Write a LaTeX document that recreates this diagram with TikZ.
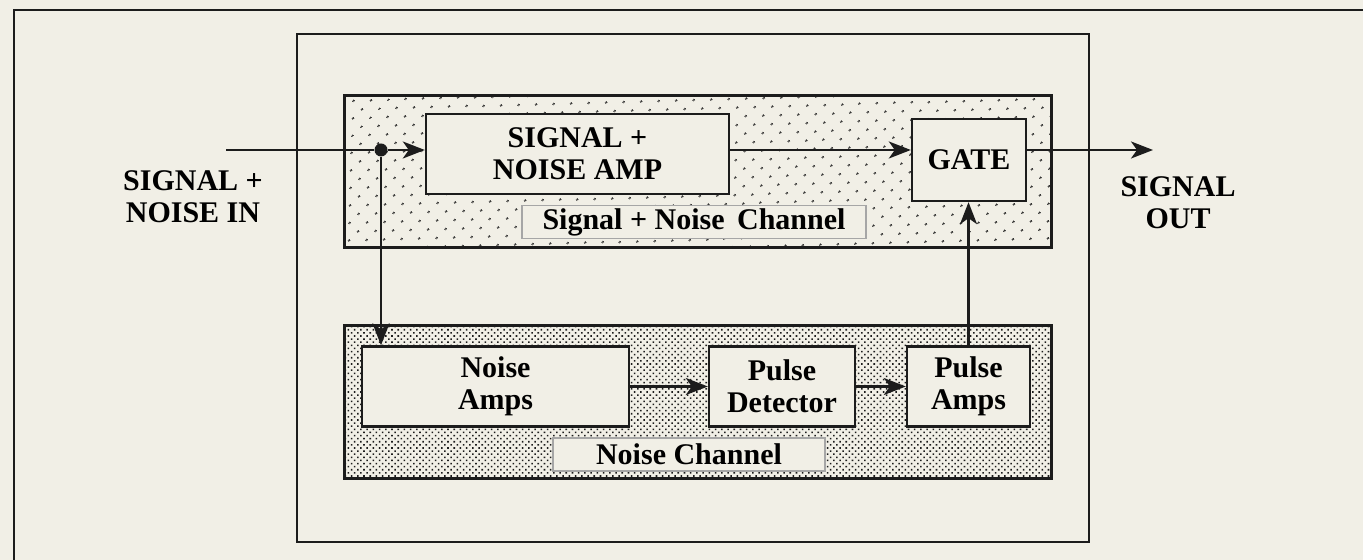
\documentclass[tikz,border=0pt]{standalone}
\usepackage{fontspec}
\setmainfont{Liberation Serif}
\usetikzlibrary{arrows.meta,patterns.meta}
\definecolor{paper}{HTML}{F1EFE6}
\definecolor{ink}{HTML}{1C1C1C}

\begin{document}
\begin{tikzpicture}[
    x=0.5pt, y=-0.5pt,
    sig/.style={-{Stealth[length=11pt, width=8.5pt, inset=3pt]}, line width=1.2pt, draw=ink},
    wire/.style={line width=1.2pt, draw=ink},
    blk/.style={draw=ink, line width=1.2pt, fill=paper, align=center, inner sep=2pt,
        font=\fontsize{15}{16}\selectfont\bfseries, minimum height=40pt},
    tag/.style={draw=gray!70, line width=0.7pt, fill=paper, align=center, inner sep=1pt,
        font=\fontsize{15}{16}\selectfont\bfseries, minimum height=16.5pt},
    io/.style={align=center, font=\fontsize{15}{16}\selectfont\bfseries, inner sep=1pt},
    sparse/.style={draw=ink, line width=1.5pt, pattern color=ink,
        pattern={Dots[distance=6.4pt, angle=45, radius=0.7pt]}},
    dense/.style={draw=ink, line width=1.5pt, pattern color=ink,
        pattern={Dots[distance=2.2pt, angle=45, radius=0.55pt]}}
]
\useasboundingbox (0,0) rectangle (1363,560);
\fill[paper] (0,0) rectangle (1363,560);
% Frames
\draw[wire] (14,560) |- (1363,10);
\draw[wire] (297,34) rectangle (1089,542);
% Channels
\draw[sparse] (344,96) rectangle (1051,248);
\draw[dense]  (344,326) rectangle (1051,478);
% Signal + noise channel
\node[blk, minimum width=151.5pt] (amp)   at (577.5,154) {SIGNAL +\\NOISE AMP};
\node[tag, minimum width=172pt]   (snlbl) at (694,222)   {Signal + Noise\, Channel};
\node[blk, minimum width=57pt, minimum height=41pt] (gate) at (969,160) {GATE};
% Noise channel
\node[blk, minimum width=133.5pt] (namps) at (495.5,386.5) {Noise\\Amps};
\node[blk, minimum width=73pt]    (pdet)  at (782,386.5)   {Pulse\\Detector};
\node[blk, minimum width=61.5pt]  (pamps) at (968.5,386.5) {Pulse\\Amps};
\node[tag, minimum width=136pt]   (nlbl)  at (689,454.5)   {Noise Channel};
% In / out
\node[io] (sigin)  at (193,197)  {SIGNAL +\\NOISE IN};
\node[io] (sigout) at (1178,203) {SIGNAL\\OUT};
\node[circle, fill=ink, inner sep=0pt, minimum size=6.5pt] (split) at (381,150) {};
\coordinate (inend)  at (226,150);
\coordinate (outend) at (1153,150);
% Connectors
\draw[wire] (inend) -- (split);
\draw[sig] (split) -- (amp.west |- split);
\draw[sig] (amp.east |- split) -- (gate.west |- split);
\draw[sig] (gate.east |- split) -- (outend);
\draw[sig] (split) -- (split |- namps.north);
\draw[sig] (namps) -- (pdet);
\draw[sig] (pdet) -- (pamps);
\draw[sig] (pamps.north) -- (pamps.north |- gate.south);
\end{tikzpicture}
\end{document}
